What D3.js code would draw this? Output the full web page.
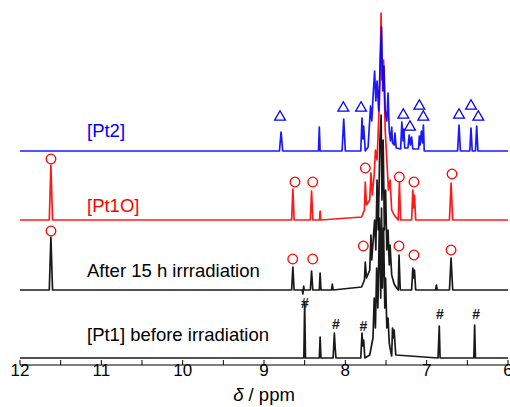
<!DOCTYPE html>
<html>
<head>
<meta charset="utf-8">
<script src="https://cdn.jsdelivr.net/npm/d3@7"></script>
<style>
  html, body { margin: 0; padding: 0; background: #fff; }
  svg { display: block; }
  text { font-family: "Liberation Sans", Arial, sans-serif; }
</style>
</head>
<body>
<div id="chart"></div>
<script>
// ---------- DATA (chemical shift in ppm, intensity in arbitrary units) ----------
const xTicks = [12, 11, 10, 9, 8, 7, 6];
const xMinorTicks = [11.5, 10.5, 9.5, 8.5, 7.5, 6.5];

const seriesNames = ["[Pt2]", "[Pt1O]", "After 15 h irrradiation", "[Pt1] before irradiation"];
const seriesOffsets = [214, 145, 75, 7];

const specPt2 = [
  [12,0],
  [8.81,0],[8.79,19],[8.77,0],
  [8.33,0],[8.32,24],[8.31,0],
  [8.04,0],[8.02,32],[8.00,0],
  [7.81,0],[7.795,33],[7.785,12],[7.775,25],[7.755,0],
  [7.72,4],[7.69,45],[7.675,30],[7.655,60],[7.64,80],[7.625,50],[7.61,70],[7.59,40],[7.57,92],[7.555,124],[7.54,60],[7.525,85],[7.51,40],[7.49,30],[7.475,58],[7.46,20],[7.445,10],[7.43,24],[7.42,8],[7.40,6],[7.39,18],[7.375,3],
  [7.32,2],[7.305,29],[7.29,10],[7.28,22],[7.27,3],
  [7.23,3],[7.215,16],[7.20,6],[7.185,14],[7.17,2],
  [7.10,2],[7.09,15],[7.08,6],[7.065,20],[7.05,8],[7.04,26],[7.03,0],
  [6.62,0],[6.602,26],[6.585,0],
  [6.47,0],[6.455,23],[6.44,0],
  [6.40,0],[6.385,25],[6.37,0],
  [6,0]
];

const specPt1O = [
  [12,0],
  [11.64,0],[11.62,55],[11.60,0],
  [8.66,0],[8.645,31],[8.63,0],
  [8.43,0],[8.415,29],[8.40,0],
  [8.318,0],[8.31,9],[8.302,0],
  [7.80,3],[7.765,10],[7.755,38],[7.74,15],[7.70,20],[7.685,47],[7.67,25],[7.645,45],[7.63,70],[7.61,60],[7.58,120],[7.56,207],[7.55,140],[7.53,160],[7.51,90],[7.49,60],[7.47,30],[7.45,40],[7.43,10],[7.40,5],[7.37,2],
  [7.35,0],[7.335,38],[7.32,0],
  [7.185,0],[7.17,30],[7.16,12],[7.15,25],[7.135,0],
  [6.72,0],[6.70,37],[6.68,0],
  [6,0]
];

const spec15h = [
  [12,0],
  [11.64,0],[11.62,53],[11.60,0],
  [8.66,0],[8.645,23],[8.63,0],
  [8.53,0],[8.522,-4],[8.512,4],[8.505,0],
  [8.43,0],[8.415,19],[8.40,0],
  [8.32,0],[8.31,17],[8.30,0],
  [8.17,0],[8.16,6],[8.15,0],
  [7.80,3],[7.765,10],[7.755,28],[7.74,12],[7.70,20],[7.685,55],[7.675,30],[7.64,70],[7.625,40],[7.61,110],[7.595,60],[7.575,150],[7.56,175],[7.55,90],[7.535,150],[7.52,60],[7.505,100],[7.49,40],[7.475,60],[7.46,25],[7.45,45],[7.43,15],[7.40,6],[7.37,2],
  [7.35,0],[7.34,35],[7.325,0],
  [7.185,0],[7.17,22],[7.16,12],[7.15,20],[7.135,0],
  [6.89,0],[6.88,5],[6.87,0],
  [6.72,0],[6.70,32],[6.68,0],
  [6,0]
];

const specPt1 = [
  [12,0],
  [8.51,0],[8.50,56],[8.49,0],
  [8.32,0],[8.31,21],[8.30,0],
  [8.15,0],[8.135,25],[8.125,10],[8.115,0],
  [7.81,0],[7.795,25],[7.785,12],[7.775,18],[7.76,0],
  [7.70,3],[7.66,20],[7.645,60],[7.63,30],[7.615,90],[7.60,50],[7.58,140],[7.565,60],[7.555,150],[7.545,70],[7.53,130],[7.515,50],[7.505,80],[7.49,30],[7.475,40],[7.46,15],[7.45,10],
  [7.43,2],[7.42,30],[7.41,20],[7.40,28],[7.38,3],
  [6.86,0],[6.845,32],[6.835,0],
  [6.42,0],[6.41,33],[6.40,0],
  [6,0]
];

// peak assignment markers [ppm, level]
const trianglesPt2 = [[8.803,248],[8.025,257],[7.807,257],[7.287,250],[7.205,238],[7.09,259],[7.041,248],[6.602,250],[6.455,259],[6.365,248]];
const circlesPt1O = [[11.619,206],[8.619,183],[8.401,183],[7.754,197],[7.336,188],[7.156,183],[6.688,191]];
const circles15h = [[11.619,134],[8.647,106],[8.401,106],[7.779,119],[7.34,119],[7.156,110],[6.70,115]];
const hashesPt1 = [[8.496,62],[8.115,41],[7.779,39],[6.836,51],[6.393,51]];

// ---------- CHART ----------
const W = 510, H = 407;
const svg = d3.select("#chart").append("svg").attr("width", W).attr("height", H);

const x = d3.scaleLinear().domain([12, 6]).range([20, 508]);
const y = d3.scaleLinear().domain([0, 365]).range([365, 0]);

const spectra = [specPt2, specPt1O, spec15h, specPt1];
const colors = ["#0000ff", "#ff0000", "#000000", "#000000"];
const drawOrder = [3, 2, 1, 0];

const line = d3.line().x(d => x(d[0])).y(d => y(d[1]));

drawOrder.forEach(i => {
  svg.append("path")
    .datum(spectra[i].map(d => [d[0], d[1] + seriesOffsets[i]]))
    .attr("d", line)
    .attr("fill", "none")
    .attr("stroke", colors[i])
    .attr("stroke-width", 1.7)
    .attr("stroke-opacity", 0.9)
    .attr("stroke-linejoin", "round");
});

// markers
const tri = d3.symbol().type(d3.symbolTriangle).size(50);
svg.selectAll("path.tri").data(trianglesPt2).join("path")
  .attr("class", "tri")
  .attr("d", tri)
  .attr("transform", d => `translate(${x(d[0])},${y(d[1])})`)
  .attr("fill", "none").attr("stroke", "#0000ff").attr("stroke-width", 1.3);

[circlesPt1O, circles15h].forEach(arr => {
  svg.append("g").selectAll("circle").data(arr).join("circle")
    .attr("cx", d => x(d[0])).attr("cy", d => y(d[1])).attr("r", 4.8)
    .attr("fill", "none").attr("stroke", "#ff0000").attr("stroke-width", 1.3);
});

svg.append("g").selectAll("text").data(hashesPt1).join("text")
  .attr("x", d => x(d[0])).attr("y", d => y(d[1]))
  .attr("text-anchor", "middle").attr("dominant-baseline", "central")
  .attr("font-size", 14).attr("font-weight", "bold").attr("fill", "#1a1a2e")
  .text("#");

// series labels
const labelPos = [[87, 137], [87, 212], [87, 277], [87, 341]];
const labelColors = ["#0000ff", "#ff0000", "#000000", "#000000"];
seriesNames.forEach((n, i) => {
  svg.append("text")
    .attr("x", labelPos[i][0]).attr("y", labelPos[i][1])
    .attr("font-size", 18.5).attr("fill", labelColors[i])
    .text(n);
});

// x axis
const axisY = 365;
svg.append("line").attr("x1", x(12)).attr("x2", x(6)).attr("y1", axisY).attr("y2", axisY)
  .attr("stroke", "#000").attr("stroke-width", 1);
svg.append("g").selectAll("line").data(xTicks.concat(xMinorTicks)).join("line")
  .attr("x1", d => x(d)).attr("x2", d => x(d))
  .attr("y1", axisY).attr("y2", axisY - 5)
  .attr("stroke", "#000").attr("stroke-width", 1);
svg.append("g").selectAll("text").data(xTicks).join("text")
  .attr("x", d => x(d)).attr("y", 376)
  .attr("text-anchor", "middle")
  .attr("font-size", 17).attr("fill", "#000")
  .text(d => d);

const title = svg.append("text").attr("x", 264).attr("y", 401)
  .attr("text-anchor", "middle").attr("font-size", 18.5).attr("fill", "#000");
title.append("tspan").attr("font-style", "italic").text("δ");
title.append("tspan").text(" / ppm");
</script>
</body>
</html>
